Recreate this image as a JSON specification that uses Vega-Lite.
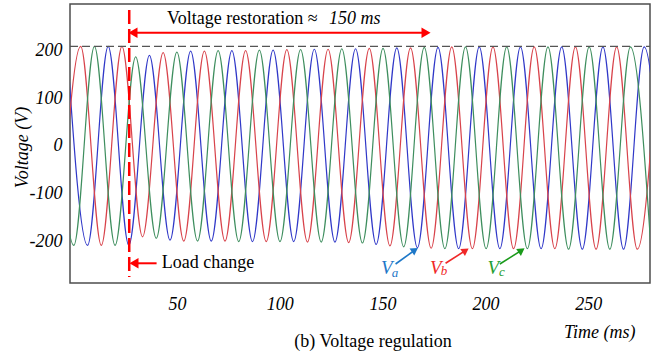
{
 "$schema": "https://vega.github.io/schema/vega-lite/v6.json",
 "width": 580,
 "height": 279,
 "autosize": {"type": "none"},
 "padding": {"left": 70, "top": 4, "right": 4, "bottom": 69},
 "background": "white",
 "config": {"view": {"stroke": "#4d4d4d", "strokeWidth": 1.5}},
 "title": {"text": "(b) Voltage regulation", "orient": "bottom", "font": "Liberation Serif", "fontSize": 18, "fontWeight": "normal", "color": "#000", "anchor": "middle", "dx": 13, "dy": -8, "offset": 0},
 "datasets": {
  "waves": [
   {"t": -3.48, "v": 209, "p": "Va"}, {"t": 6.54, "v": -209, "p": "Va"}, {"t": 16.56, "v": 209, "p": "Va"}, {"t": 26.59, "v": -209, "p": "Va"},
   {"t": 36.61, "v": 190, "p": "Va"}, {"t": 46.63, "v": -198, "p": "Va"}, {"t": 56.66, "v": 199, "p": "Va"}, {"t": 66.68, "v": -200, "p": "Va"},
   {"t": 76.70, "v": 200, "p": "Va"}, {"t": 86.73, "v": -201, "p": "Va"}, {"t": 96.75, "v": 201, "p": "Va"}, {"t": 106.77, "v": -201, "p": "Va"},
   {"t": 116.79, "v": 203, "p": "Va"}, {"t": 126.82, "v": -202, "p": "Va"}, {"t": 136.84, "v": 204, "p": "Va"}, {"t": 146.86, "v": -207, "p": "Va"},
   {"t": 156.89, "v": 206, "p": "Va"}, {"t": 166.91, "v": -214, "p": "Va"}, {"t": 176.93, "v": 207, "p": "Va"}, {"t": 186.96, "v": -216, "p": "Va"},
   {"t": 196.98, "v": 208, "p": "Va"}, {"t": 207.00, "v": -216, "p": "Va"}, {"t": 217.02, "v": 208, "p": "Va"}, {"t": 227.05, "v": -216, "p": "Va"},
   {"t": 237.07, "v": 208, "p": "Va"}, {"t": 247.09, "v": -217, "p": "Va"}, {"t": 257.12, "v": 208, "p": "Va"}, {"t": 267.14, "v": -217, "p": "Va"},
   {"t": 277.16, "v": 208, "p": "Va"}, {"t": 287.19, "v": -217, "p": "Va"},
   {"t": -6.82, "v": -209, "p": "Vb"}, {"t": 3.20, "v": 209, "p": "Vb"}, {"t": 13.22, "v": -209, "p": "Vb"}, {"t": 23.25, "v": 209, "p": "Vb"},
   {"t": 33.27, "v": -191, "p": "Vb"}, {"t": 43.29, "v": 196, "p": "Vb"}, {"t": 53.32, "v": -200, "p": "Vb"}, {"t": 63.34, "v": 199, "p": "Vb"},
   {"t": 73.36, "v": -200, "p": "Vb"}, {"t": 83.38, "v": 200, "p": "Vb"}, {"t": 93.41, "v": -201, "p": "Vb"}, {"t": 103.43, "v": 202, "p": "Vb"},
   {"t": 113.45, "v": -202, "p": "Vb"}, {"t": 123.48, "v": 203, "p": "Vb"}, {"t": 133.50, "v": -203, "p": "Vb"}, {"t": 143.52, "v": 205, "p": "Vb"},
   {"t": 153.55, "v": -210, "p": "Vb"}, {"t": 163.57, "v": 206, "p": "Vb"}, {"t": 173.59, "v": -215, "p": "Vb"}, {"t": 183.61, "v": 208, "p": "Vb"},
   {"t": 193.64, "v": -216, "p": "Vb"}, {"t": 203.66, "v": 208, "p": "Vb"}, {"t": 213.68, "v": -216, "p": "Vb"}, {"t": 223.71, "v": 208, "p": "Vb"},
   {"t": 233.73, "v": -216, "p": "Vb"}, {"t": 243.75, "v": 208, "p": "Vb"}, {"t": 253.78, "v": -217, "p": "Vb"}, {"t": 263.80, "v": 208, "p": "Vb"},
   {"t": 273.82, "v": -217, "p": "Vb"}, {"t": 283.84, "v": 208, "p": "Vb"},
   {"t": -10.16, "v": 209, "p": "Vc"}, {"t": -0.14, "v": -209, "p": "Vc"}, {"t": 9.88, "v": 209, "p": "Vc"}, {"t": 19.91, "v": -209, "p": "Vc"},
   {"t": 29.93, "v": 187, "p": "Vc"}, {"t": 39.95, "v": -194, "p": "Vc"}, {"t": 49.97, "v": 197, "p": "Vc"}, {"t": 60.00, "v": -200, "p": "Vc"},
   {"t": 70.02, "v": 200, "p": "Vc"}, {"t": 80.04, "v": -201, "p": "Vc"}, {"t": 90.07, "v": 201, "p": "Vc"}, {"t": 100.09, "v": -201, "p": "Vc"},
   {"t": 110.11, "v": 202, "p": "Vc"}, {"t": 120.14, "v": -202, "p": "Vc"}, {"t": 130.16, "v": 204, "p": "Vc"}, {"t": 140.18, "v": -204, "p": "Vc"},
   {"t": 150.20, "v": 205, "p": "Vc"}, {"t": 160.23, "v": -212, "p": "Vc"}, {"t": 170.25, "v": 207, "p": "Vc"}, {"t": 180.27, "v": -216, "p": "Vc"},
   {"t": 190.30, "v": 208, "p": "Vc"}, {"t": 200.32, "v": -216, "p": "Vc"}, {"t": 210.34, "v": 208, "p": "Vc"}, {"t": 220.37, "v": -216, "p": "Vc"},
   {"t": 230.39, "v": 208, "p": "Vc"}, {"t": 240.41, "v": -217, "p": "Vc"}, {"t": 250.43, "v": 208, "p": "Vc"}, {"t": 260.46, "v": -217, "p": "Vc"},
   {"t": 270.48, "v": 208, "p": "Vc"}, {"t": 280.50, "v": -217, "p": "Vc"}
  ]
 },
 "encoding": {
  "x": {"field": "t", "type": "quantitative", "scale": {"domain": [-2, 280], "nice": false, "zero": false},
        "axis": {"values": [50, 100, 150, 200, 250], "domain": false, "ticks": false, "grid": false,
                 "labelFont": "Liberation Serif", "labelFontStyle": "italic", "labelFontSize": 18, "labelColor": "#000", "labelPadding": 12,
                 "title": "Time (ms)", "titleFont": "Liberation Serif", "titleFontStyle": "italic", "titleFontWeight": "normal", "titleFontSize": 18, "titleColor": "#000",
                 "titleX": 565, "titleY": 49, "titleAlign": "right", "titleBaseline": "middle"}},
  "y": {"field": "v", "type": "quantitative", "scale": {"domain": [-288, 298], "nice": false, "zero": false},
        "axis": {"values": [-200, -100, 0, 100, 200], "domain": false, "ticks": false, "grid": false,
                 "labelExpr": "datum.value < 0 ? '-' + abs(datum.value) : '' + datum.value",
                 "labelFont": "Liberation Serif", "labelFontStyle": "italic", "labelFontSize": 18, "labelColor": "#000", "labelPadding": 8,
                 "title": "Voltage (V)", "titleFont": "Liberation Serif", "titleFontStyle": "italic", "titleFontWeight": "normal", "titleFontSize": 18, "titleColor": "#000",
                 "titleX": -48, "titleY": 143, "titleAngle": 270, "titleAlign": "center", "titleBaseline": "middle"}}
 },
 "layer": [
  {
   "data": {"name": "waves"},
   "mark": {"type": "line", "interpolate": "monotone", "strokeWidth": 1.2, "clip": true},
   "encoding": {"color": {"field": "p", "type": "nominal", "scale": {"domain": ["Va", "Vb", "Vc"], "range": ["#3038C8", "#D8434B", "#3E8E5E"]}, "legend": null}}
  },
  {
   "data": {"values": [{"t": -2, "v": 209}, {"t": 280, "v": 209}]},
   "mark": {"type": "line", "color": "#555555", "strokeWidth": 1.3, "strokeDash": [8, 4], "clip": true},
   "encoding": {}
  },
  {
   "data": {"values": [{"t": 26.8, "v": 285.4, "v2": -275.4}]},
   "mark": {"type": "rule", "color": "#FF0000", "strokeWidth": 2.5, "strokeDash": [14, 5]},
   "encoding": {"y2": {"field": "v2"}}
  },
  {
   "data": {"values": [{"t": 28, "t2": 172, "v": 237.8}, {"t": 29.5, "t2": 40.1, "v": -246.6}]},
   "mark": {"type": "rule", "color": "#FF0000", "strokeWidth": 2},
   "encoding": {"x2": {"field": "t2"}}
  },
  {
   "data": {"values": [{"t": 28.6, "v": 237.8}, {"t": 29.1, "v": -246.6}]},
   "mark": {"type": "point", "shape": "triangle-left", "filled": true, "color": "#FF0000", "size": 110, "opacity": 1},
   "encoding": {}
  },
  {
   "data": {"values": [{"t": 171.1, "v": 237.8}]},
   "mark": {"type": "point", "shape": "triangle-right", "filled": true, "color": "#FF0000", "size": 110, "opacity": 1},
   "encoding": {}
  },
  {
   "data": {"values": [{"t": 45.2, "v": 266.5, "label": "Voltage restoration ≈"}, {"t": 42.6, "v": -246.6, "label": "Load change"}]},
   "mark": {"type": "text", "font": "Liberation Serif", "fontSize": 18, "align": "left", "baseline": "middle", "color": "#000"},
   "encoding": {"text": {"field": "label"}}
  },
  {
   "data": {"values": [{"t": 123.9, "v": 266.5, "label": "150 ms"}]},
   "mark": {"type": "text", "font": "Liberation Serif", "fontSize": 18, "fontStyle": "italic", "align": "left", "baseline": "middle", "color": "#000"},
   "encoding": {"text": {"field": "label"}}
  },
  {
   "data": {"values": [{"t": 152.0, "v": -256.5, "lab": "Va", "label": "V"}, {"t": 175.9, "v": -256.5, "lab": "Vb", "label": "V"}, {"t": 203.8, "v": -256.5, "lab": "Vc", "label": "V"}]},
   "mark": {"type": "text", "font": "Liberation Serif", "fontSize": 19, "fontStyle": "italic", "align": "center", "baseline": "middle"},
   "encoding": {"text": {"field": "label"}, "color": {"field": "lab", "type": "nominal", "scale": {"domain": ["Va", "Vb", "Vc"], "range": ["#1E78C8", "#F02828", "#1E9E32"]}, "legend": null}}
  },
  {
   "data": {"values": [{"t": 156.0, "v": -267, "lab": "Va", "label": "a"}, {"t": 179.8, "v": -263, "lab": "Vb", "label": "b"}, {"t": 208.0, "v": -265, "lab": "Vc", "label": "c"}]},
   "mark": {"type": "text", "font": "Liberation Serif", "fontSize": 13, "fontStyle": "italic", "align": "center", "baseline": "middle"},
   "encoding": {"text": {"field": "label"}, "color": {"field": "lab", "type": "nominal", "scale": {"domain": ["Va", "Vb", "Vc"], "range": ["#1E78C8", "#F02828", "#1E9E32"]}, "legend": null}}
  },
  {
   "data": {"values": [{"t": 156.3, "v": -248.1, "t2": 165.9, "v2": -218.2, "lab": "Va"}, {"t": 180.6, "v": -246.6, "t2": 190.5, "v2": -219.2, "lab": "Vb"}, {"t": 207.0, "v": -248.1, "t2": 217.7, "v2": -219.0, "lab": "Vc"}]},
   "mark": {"type": "rule", "strokeWidth": 1.6},
   "encoding": {"x2": {"field": "t2"}, "y2": {"field": "v2"}, "color": {"field": "lab", "type": "nominal", "scale": {"domain": ["Va", "Vb", "Vc"], "range": ["#1E78C8", "#F02828", "#1A9A1A"]}, "legend": null}}
  },
  {
   "data": {"values": [{"t": 165.7, "v": -218.7, "lab": "Va"}, {"t": 190.35, "v": -219.7, "lab": "Vb"}, {"t": 217.55, "v": -219.5, "lab": "Vc"}]},
   "mark": {"type": "point", "shape": "triangle-up", "filled": true, "size": 70, "angle": 56, "opacity": 1},
   "encoding": {"color": {"field": "lab", "type": "nominal", "scale": {"domain": ["Va", "Vb", "Vc"], "range": ["#1E78C8", "#F02828", "#1A9A1A"]}, "legend": null}}
  }
 ],
 "resolve": {"scale": {"color": "independent"}}
}
